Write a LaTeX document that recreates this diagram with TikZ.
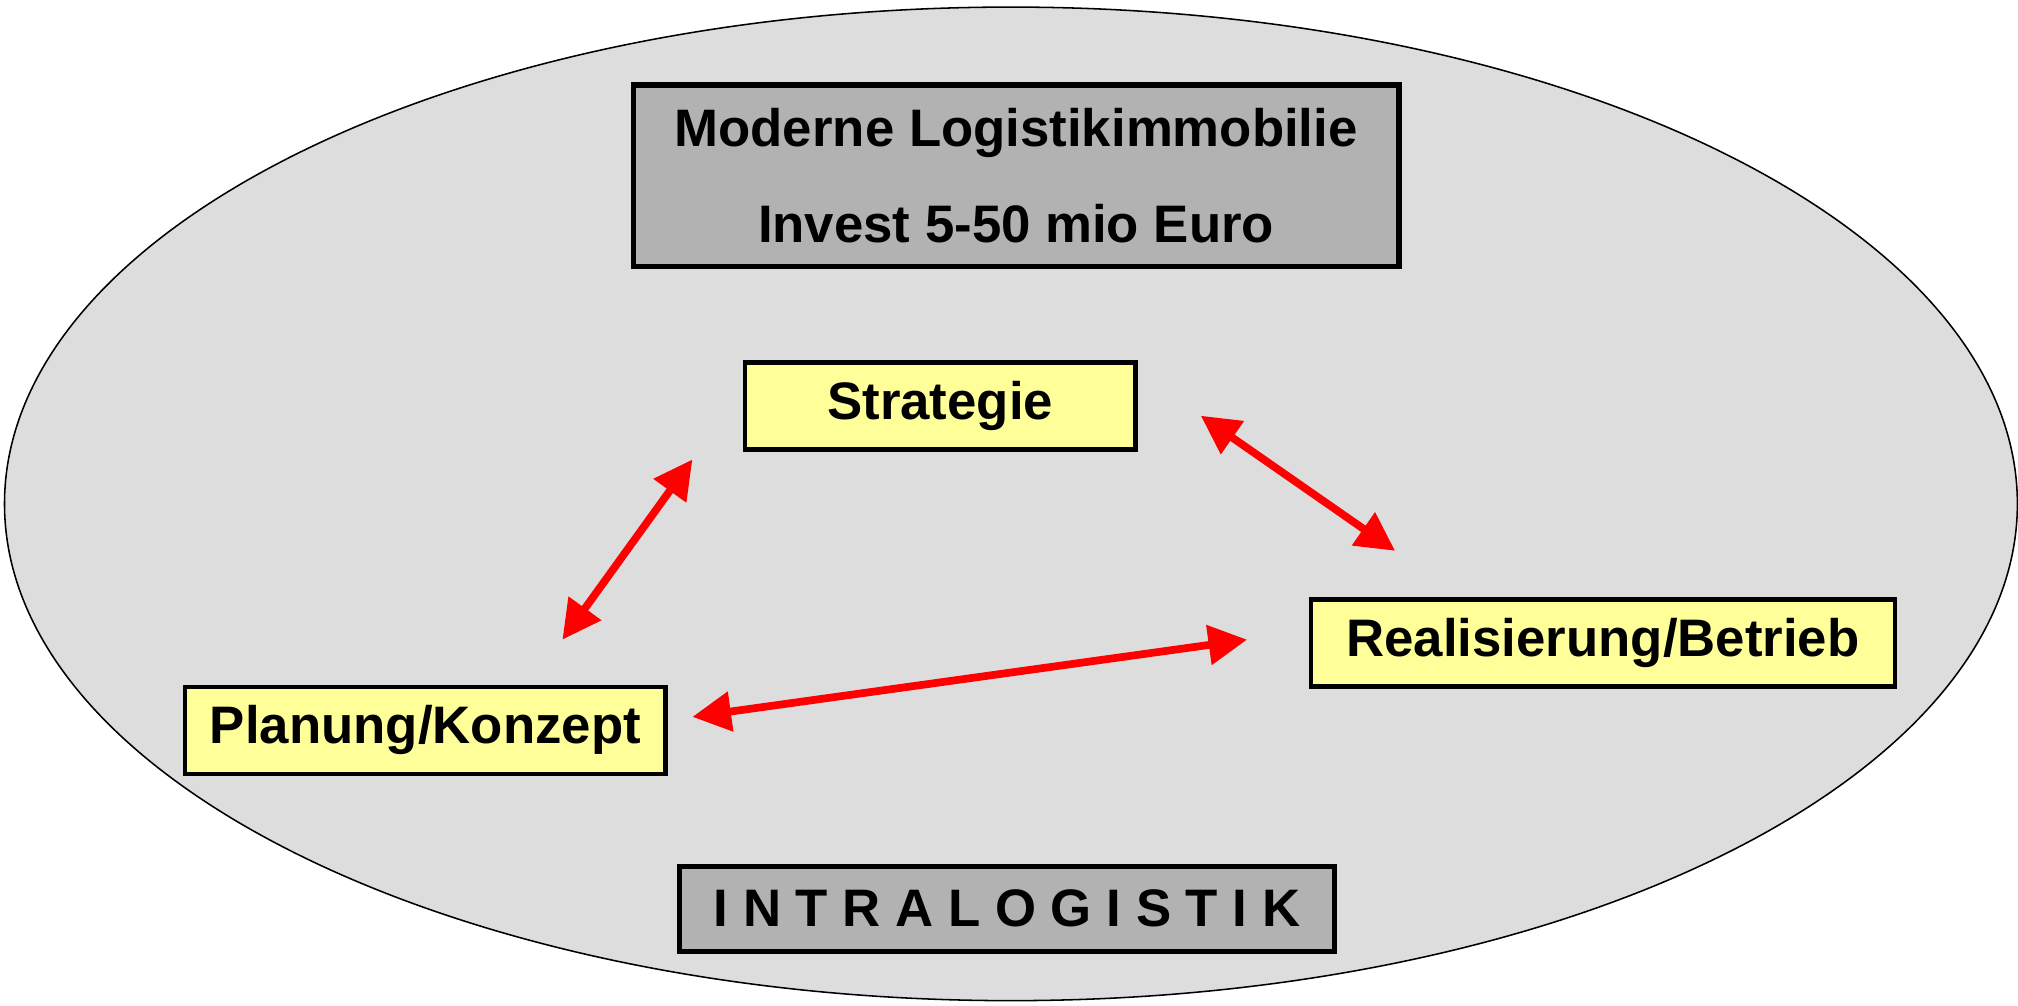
\documentclass[tikz,border=0pt]{standalone}
\usepackage{fontspec}
\setmainfont{Liberation Sans}
\usetikzlibrary{arrows.meta}
\definecolor{ellfill}{HTML}{DDDDDD}
\definecolor{boxgray}{HTML}{B2B2B2}
\definecolor{boxyellow}{HTML}{FFFF99}
\definecolor{arrred}{HTML}{FF0000}
\begin{document}
\begin{tikzpicture}[x=1pt,y=-1pt,
  graybox/.style={draw=black,line width=4pt,fill=boxgray,inner sep=0pt,
    font=\fontsize{41}{74}\selectfont\bfseries,align=center},
  yelbox/.style={draw=black,line width=3.5pt,fill=boxyellow,inner sep=0pt,
    minimum height=67.5pt,font=\fontsize{41}{49}\selectfont\bfseries},
  dblarrow/.style={draw=arrred,line width=6pt,
    {Triangle[length=30pt,width=30pt]}-{Triangle[length=30pt,width=30pt]}}]
\useasboundingbox (0,0) rectangle (1568,781);
\path[draw=black,line width=1.2pt,fill=ellfill] (785.5,391.5) ellipse [x radius=782,y radius=386];
\node[graybox,minimum width=595pt,minimum height=141pt] (top) at (789.5,136.5)
  {Moderne Logistikimmobilie\\Invest 5-50 mio Euro};
\node[yelbox,minimum width=303.5pt] (str) at (730.5,315.5) {Strategie};
\node[yelbox,minimum width=453.5pt] (real) at (1245.5,499.5) {Realisierung/Betrieb};
\node[yelbox,minimum width=373.5pt] (plan) at (330.5,567.5) {Planung/Konzept};
\node[graybox,minimum width=509pt,minimum height=66pt] (intra) at (782.5,706)
  {I N T R A L O G I S T I K};
\coordinate (a1) at (437,497);
\coordinate (a2) at (538,357);
\coordinate (b1) at (933,323);
\coordinate (b2) at (1084,428);
\coordinate (c1) at (538,557);
\coordinate (c2) at (969,497);
\draw[dblarrow] (a1) -- (a2);
\draw[dblarrow] (b1) -- (b2);
\draw[dblarrow] (c1) -- (c2);
\end{tikzpicture}
\end{document}
